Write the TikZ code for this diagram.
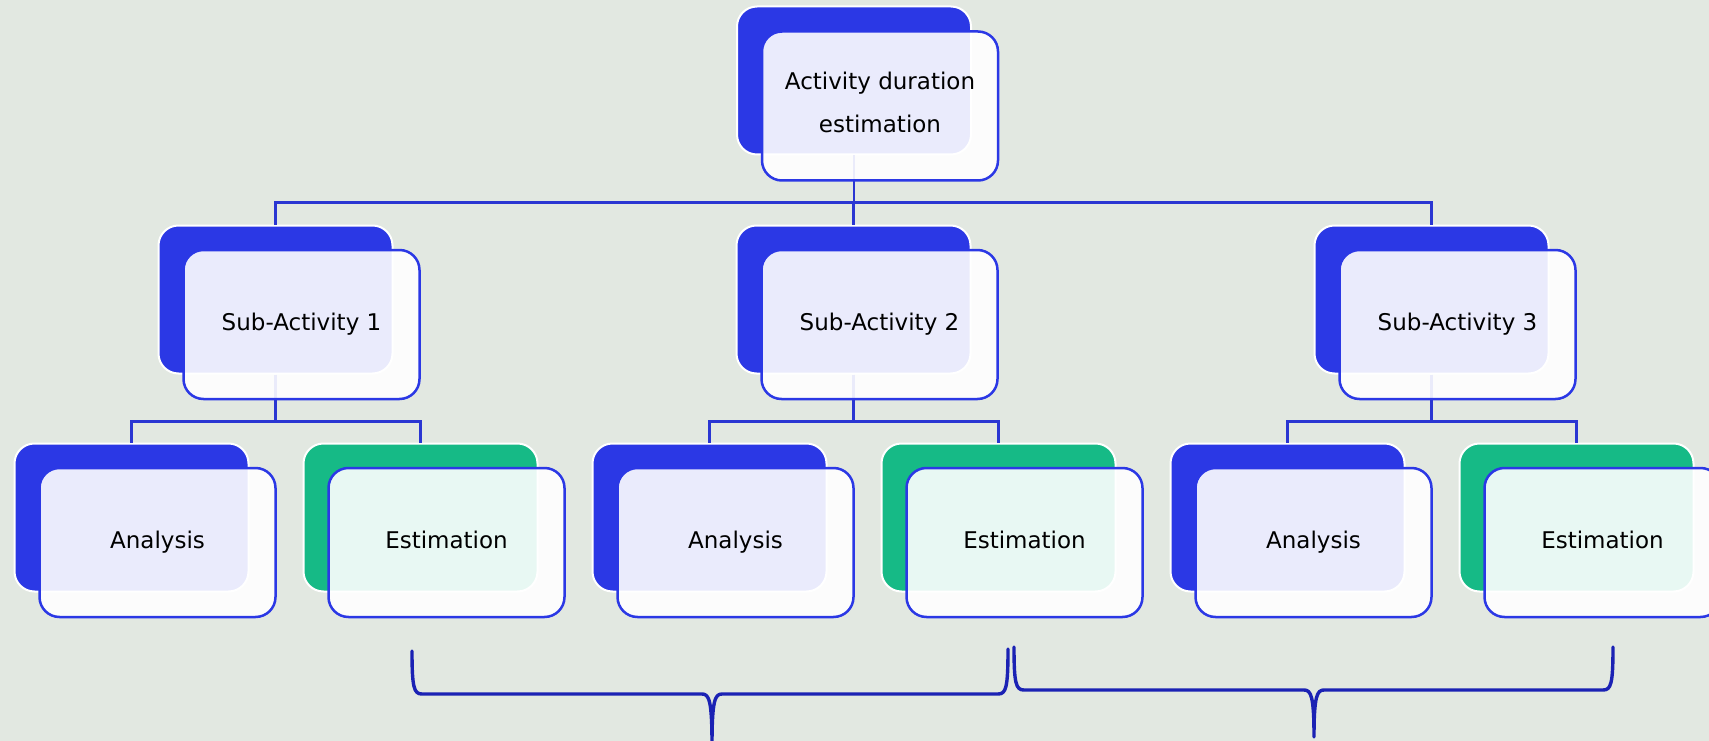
\documentclass[tikz,border=0pt]{standalone}
\usepackage{fontspec}
\setmainfont{DejaVu Sans}
\newcommand\mystrut{\rule[-6.5pt]{0pt}{24pt}}
\definecolor{bgc}{HTML}{E2E8E1}
\definecolor{blueback}{HTML}{2B38E5}
\definecolor{greenback}{HTML}{16BA86}
\definecolor{conncol}{HTML}{2A36D2}
\definecolor{bracecol}{HTML}{1B22B4}
\tikzset{
  backbox/.style={rectangle, rounded corners=20pt, minimum width=234pt, minimum height=148pt, draw=white, line width=2pt, inner sep=0pt},
  frontbox/.style={rectangle, rounded corners=20pt, minimum width=236pt, minimum height=149pt, draw=blueback, line width=2.5pt, fill=white, fill opacity=0.9, text opacity=1, inner sep=0pt, align=center, font=\fontsize{23}{43}\selectfont, execute at begin node=\mystrut},
  conn/.style={draw=conncol, line width=2.4pt},
  bracestyle/.style={draw=bracecol, line width=3.4pt, line cap=round, line join=round}
}
\begin{document}
\begin{tikzpicture}[x=1pt,y=-1pt]
\fill[bgc] (0,0) rectangle (1709,741);
\useasboundingbox (0,0) rectangle (1709,741);
\clip (0,0) rectangle (1709,741);
% back boxes
\node[backbox, fill=blueback] (top-b) at (854,80.5) {};
\node[backbox, fill=blueback] (s1-b) at (275.5,299.5) {};
\node[backbox, fill=blueback] (s2-b) at (853.5,299.5) {};
\node[backbox, fill=blueback] (s3-b) at (1431.5,299.5) {};
\node[backbox, fill=blueback] (a1-b) at (131.5,517.5) {};
\node[backbox, fill=greenback] (e1-b) at (420.5,517.5) {};
\node[backbox, fill=blueback] (a2-b) at (709.5,517.5) {};
\node[backbox, fill=greenback] (e2-b) at (998.5,517.5) {};
\node[backbox, fill=blueback] (a3-b) at (1287.5,517.5) {};
\node[backbox, fill=greenback] (e3-b) at (1576.5,517.5) {};
% connectors
\draw[conn] (top-b.south) -- ++(0,47) -| (s1-b.north);
\draw[conn] (top-b.south) -- ++(0,47) -| (s2-b.north);
\draw[conn] (top-b.south) -- ++(0,47) -| (s3-b.north);
\draw[conn] (s1-b.south) -- ++(0,47) -| (a1-b.north);
\draw[conn] (s1-b.south) -- ++(0,47) -| (e1-b.north);
\draw[conn] (s2-b.south) -- ++(0,47) -| (a2-b.north);
\draw[conn] (s2-b.south) -- ++(0,47) -| (e2-b.north);
\draw[conn] (s3-b.south) -- ++(0,47) -| (a3-b.north);
\draw[conn] (s3-b.south) -- ++(0,47) -| (e3-b.north);
% front boxes
\node[frontbox] (top-f) at (880,106) {Activity duration\\estimation\mystrut};
\node[frontbox] (s1-f) at (301.5,324.5) {Sub-Activity 1};
\node[frontbox] (s2-f) at (879.5,324.5) {Sub-Activity 2};
\node[frontbox] (s3-f) at (1457.5,324.5) {Sub-Activity 3};
\node[frontbox] (a1-f) at (157.5,542.5) {Analysis};
\node[frontbox] (e1-f) at (446.5,542.5) {Estimation};
\node[frontbox] (a2-f) at (735.5,542.5) {Analysis};
\node[frontbox] (e2-f) at (1024.5,542.5) {Estimation};
\node[frontbox] (a3-f) at (1313.5,542.5) {Analysis};
\node[frontbox] (e3-f) at (1602.5,542.5) {Estimation};
% braces
\draw[bracestyle] (412,651) .. controls (412,688) and (414,694) .. (422,694) -- (702,694)
  .. controls (709,694) and (712,700) .. (712,745)
  .. controls (712,700) and (715,694) .. (722,694) -- (998,694)
  .. controls (1006,694) and (1008,688) .. (1008,649);
\draw[bracestyle] (1014,647) .. controls (1014,684) and (1016,690) .. (1024,690) -- (1304,690)
  .. controls (1311,690) and (1314,696) .. (1314,737)
  .. controls (1314,696) and (1317,690) .. (1324,690) -- (1603,690)
  .. controls (1611,690) and (1613,684) .. (1613,647);
\end{tikzpicture}
\end{document}
